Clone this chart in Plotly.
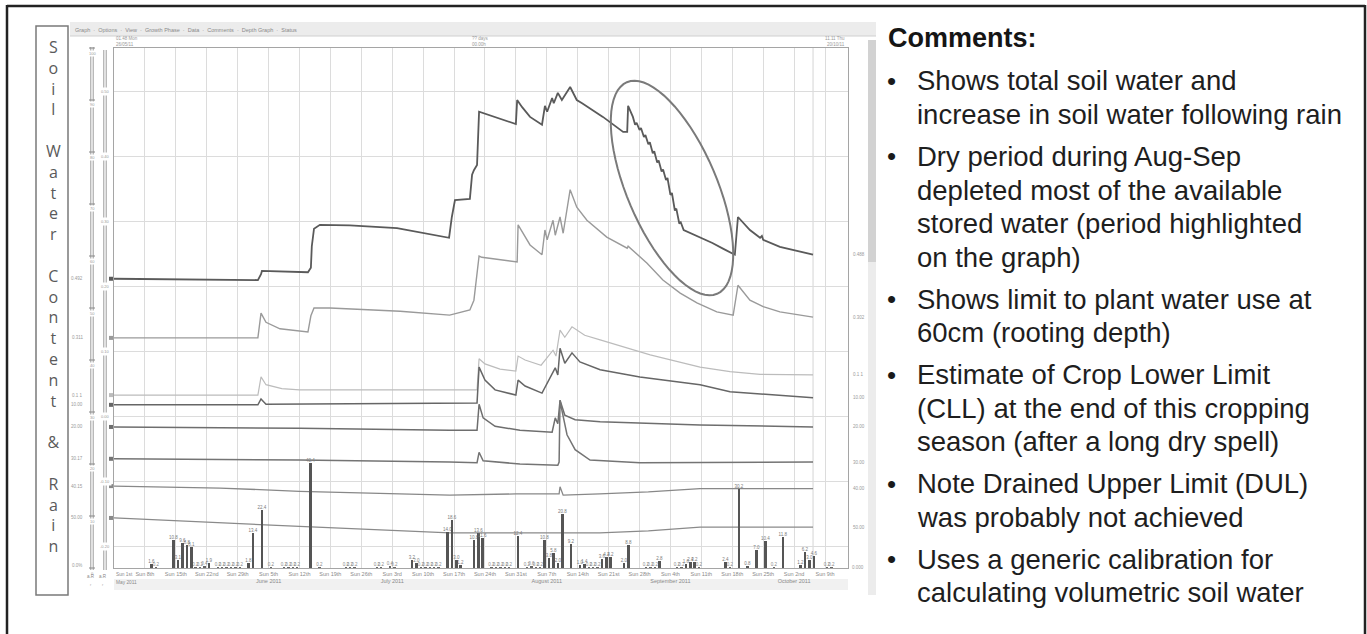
import math
import pandas as pd
import plotly.graph_objects as go

# soil water traces - position on the stacked display scale (grid units)
sw_total_dates = ["2011-05-01 00:00", "2011-06-02 14:00", "2011-06-03 07:00", "2011-06-03 12:00", "2011-06-13 22:00",
                  "2011-06-14 14:00", "2011-06-14 19:00", "2011-06-15 07:00", "2011-06-16 15:00", "2011-06-23 10:00",
                  "2011-07-04 02:00", "2011-07-11 14:00", "2011-07-15 21:00", "2011-07-16 12:00", "2011-07-17 05:00",
                  "2011-07-20 14:00", "2011-07-21 02:00", "2011-07-21 12:00", "2011-07-22 05:00", "2011-07-22 16:00",
                  "2011-07-23 14:00", "2011-07-31 00:00", "2011-07-31 07:00", "2011-08-01 10:00", "2011-08-03 05:00",
                  "2011-08-05 22:00", "2011-08-06 14:00", "2011-08-07 02:00", "2011-08-08 05:00", "2011-08-08 14:00",
                  "2011-08-09 12:00", "2011-08-10 10:00", "2011-08-12 07:00", "2011-08-13 19:00", "2011-08-15 00:00",
                  "2011-08-19 17:00", "2011-08-24 07:00", "2011-08-25 05:00", "2011-08-25 10:00", "2011-08-26 12:00",
                  "2011-08-27 00:00", "2011-08-27 08:00", "2011-08-28 00:00", "2011-08-28 08:00", "2011-08-29 00:00",
                  "2011-08-29 08:00", "2011-08-30 00:00", "2011-08-30 08:00", "2011-08-31 00:00", "2011-08-31 08:00",
                  "2011-09-01 00:00", "2011-09-01 08:00", "2011-09-02 00:00", "2011-09-02 08:00", "2011-09-03 00:00",
                  "2011-09-03 08:00", "2011-09-04 00:00", "2011-09-04 08:00", "2011-09-05 00:00", "2011-09-05 08:00",
                  "2011-09-06 00:00", "2011-09-06 08:00", "2011-09-07 00:00", "2011-09-08 00:00", "2011-09-09 00:00",
                  "2011-09-11 00:00", "2011-09-13 12:00", "2011-09-16 00:00", "2011-09-18 14:00", "2011-09-19 07:00",
                  "2011-09-22 00:00", "2011-09-24 07:00", "2011-09-24 17:00", "2011-09-25 00:00", "2011-09-28 19:00",
                  "2011-10-06 07:00"]
sw_total = [4.45, 4.43, 4.52, 4.57, 4.55, 4.62, 4.95, 5.22, 5.28, 5.27,
            5.23, 5.14, 5.08, 5.40, 5.66, 5.68, 6.05, 6.12, 6.20, 7.02,
            7.00, 6.83, 7.20, 7.09, 6.94, 6.82, 7.11, 7.02, 7.23, 7.15,
            7.31, 7.20, 7.40, 7.20, 7.15, 6.94, 6.71, 6.71, 7.11, 6.94,
            6.82, 6.85, 6.74, 6.77, 6.63, 6.66, 6.52, 6.55, 6.38, 6.41,
            6.24, 6.27, 6.10, 6.13, 5.97, 6.00, 5.74, 5.77, 5.50, 5.53,
            5.30, 5.32, 5.20, 5.17, 5.14, 5.07, 5.00, 4.91, 4.82, 5.40,
            5.20, 5.08, 5.11, 5.05, 4.94, 4.82]

sw_10_dates = ["2011-05-01 00:00", "2011-06-02 14:00", "2011-06-03 07:00", "2011-06-04 10:00", "2011-06-07 14:00",
               "2011-06-13 22:00", "2011-06-14 14:00", "2011-06-15 07:00", "2011-06-18 22:00", "2011-07-04 19:00",
               "2011-07-16 00:00", "2011-07-20 14:00", "2011-07-21 12:00", "2011-07-22 05:00", "2011-07-22 16:00",
               "2011-07-23 07:00", "2011-07-31 07:00", "2011-07-31 12:00", "2011-08-03 05:00", "2011-08-05 22:00",
               "2011-08-06 14:00", "2011-08-07 02:00", "2011-08-08 10:00", "2011-08-08 22:00", "2011-08-10 00:00",
               "2011-08-10 17:00", "2011-08-12 07:00", "2011-08-13 19:00", "2011-08-16 02:00", "2011-08-20 14:00",
               "2011-08-25 05:00", "2011-08-25 10:00", "2011-08-29 17:00", "2011-09-02 07:00", "2011-09-06 05:00",
               "2011-09-10 00:00", "2011-09-14 12:00", "2011-09-18 05:00", "2011-09-19 07:00", "2011-09-22 00:00",
               "2011-09-25 00:00", "2011-09-28 19:00", "2011-10-06 07:00"]
sw_10 = [3.54, 3.54, 3.92, 3.78, 3.68, 3.63, 3.88, 4.00, 4.00, 3.95,
         3.89, 3.97, 4.12, 4.60, 4.80, 4.78, 4.71, 5.28, 4.97, 4.82,
         5.20, 5.05, 5.35, 5.12, 5.40, 5.15, 5.82, 5.55, 5.35, 5.09,
         4.92, 4.95, 4.69, 4.43, 4.23, 4.08, 3.94, 3.89, 4.35, 4.12,
         4.02, 3.94, 3.86]

sw_20_dates = ["2011-05-01 00:00", "2011-06-02 14:00", "2011-06-03 07:00", "2011-06-04 10:00", "2011-06-08 00:00",
               "2011-06-12 00:00", "2011-07-22 05:00", "2011-07-22 16:00", "2011-07-24 00:00", "2011-07-27 10:00",
               "2011-07-31 00:00", "2011-07-31 12:00", "2011-08-02 02:00", "2011-08-05 17:00", "2011-08-08 10:00",
               "2011-08-09 02:00", "2011-08-10 00:00", "2011-08-11 02:00", "2011-08-12 17:00", "2011-08-15 14:00",
               "2011-08-19 02:00", "2011-08-24 17:00", "2011-08-30 10:00", "2011-09-10 17:00", "2011-09-17 12:00",
               "2011-09-24 07:00", "2011-10-06 07:00"]
sw_20 = [2.66, 2.66, 2.94, 2.82, 2.76, 2.74, 2.74, 3.22, 3.14, 3.06,
         3.03, 3.26, 3.20, 3.12, 3.35, 3.26, 3.66, 3.55, 3.71, 3.58,
         3.51, 3.40, 3.28, 3.09, 3.02, 2.98, 2.97]

sw_30_dates = ["2011-05-01 00:00", "2011-06-02 14:00", "2011-06-03 07:00", "2011-06-04 10:00", "2011-07-22 05:00",
               "2011-07-22 16:00", "2011-07-24 00:00", "2011-07-26 07:00", "2011-07-31 00:00", "2011-07-31 12:00",
               "2011-08-02 02:00", "2011-08-05 22:00", "2011-08-08 22:00", "2011-08-09 12:00", "2011-08-10 00:00",
               "2011-08-11 02:00", "2011-08-12 17:00", "2011-08-14 12:00", "2011-08-19 02:00", "2011-08-28 02:00",
               "2011-09-10 17:00", "2011-09-17 12:00", "2011-10-06 07:00"]
sw_30 = [2.51, 2.51, 2.60, 2.52, 2.54, 3.09, 2.89, 2.74, 2.66, 2.89,
         2.80, 2.69, 3.08, 2.97, 3.38, 3.15, 3.31, 3.17, 3.05, 2.94,
         2.82, 2.71, 2.62]

sw_40_dates = ["2011-05-01 00:00", "2011-06-12 00:00", "2011-07-16 00:00", "2011-07-22 05:00", "2011-07-22 16:00",
               "2011-07-23 14:00", "2011-07-26 07:00", "2011-07-31 22:00", "2011-08-08 05:00", "2011-08-08 22:00",
               "2011-08-09 12:00", "2011-08-10 00:00", "2011-08-11 02:00", "2011-08-13 10:00", "2011-08-19 02:00",
               "2011-09-10 17:00", "2011-10-06 07:00"]
sw_40 = [2.17, 2.15, 2.12, 2.12, 2.52, 2.31, 2.18, 2.12, 2.09, 2.31,
         2.22, 2.58, 2.35, 2.28, 2.25, 2.20, 2.17]

sw_50_dates = ["2011-05-01 00:00", "2011-06-12 00:00", "2011-07-16 00:00", "2011-07-22 05:00", "2011-07-22 16:00",
               "2011-07-23 14:00", "2011-07-31 22:00", "2011-08-09 12:00", "2011-08-09 19:00", "2011-08-10 00:00",
               "2011-08-10 10:00", "2011-08-11 14:00", "2011-08-13 10:00", "2011-08-16 19:00", "2011-08-28 02:00",
               "2011-10-06 07:00"]
sw_50 = [1.68, 1.66, 1.63, 1.62, 1.78, 1.65, 1.60, 1.58, 1.63, 2.58,
         2.43, 2.05, 1.82, 1.66, 1.62, 1.63]

sw_60_dates = ["2011-05-01 00:00", "2011-05-25 00:00", "2011-06-12 00:00", "2011-07-16 00:00", "2011-07-31 00:00",
               "2011-08-09 19:00", "2011-08-10 00:00", "2011-08-10 17:00", "2011-08-19 00:00", "2011-08-30 00:00",
               "2011-09-10 17:00", "2011-10-06 07:00"]
sw_60 = [1.26, 1.23, 1.18, 1.12, 1.14, 1.14, 1.25, 1.12, 1.14, 1.17, 1.22, 1.22]

sw_70_dates = ["2011-05-01 00:00", "2011-05-25 00:00", "2011-06-12 00:00", "2011-07-16 00:00", "2011-08-19 00:00",
               "2011-08-30 00:00", "2011-09-10 17:00", "2011-10-06 07:00"]
sw_70 = [0.77, 0.69, 0.64, 0.54, 0.54, 0.57, 0.63, 0.63]

# sensor read-outs shown at the start / end of each trace
start_labels = ["0.492", "0.311", "0.1 1", "10.00", "20.00", "30.17", "40.15", "50.00"]
end_labels = ["0.488", "0.302", "0.1 1", "10.00", "20.00", "30.00", "40.00", "50.00"]

# daily rain (mm)
rain_dates = ["2011-05-09", "2011-05-14", "2011-05-15", "2011-05-16", "2011-05-17", "2011-05-18", "2011-05-22",
              "2011-05-31", "2011-06-01", "2011-06-03", "2011-06-14", "2011-07-07", "2011-07-08", "2011-07-15",
              "2011-07-16", "2011-07-17", "2011-07-18", "2011-07-21", "2011-07-22", "2011-07-23", "2011-07-31",
              "2011-08-06", "2011-08-07", "2011-08-08", "2011-08-09", "2011-08-10", "2011-08-12", "2011-08-14",
              "2011-08-15", "2011-08-19", "2011-08-20", "2011-08-21", "2011-08-24", "2011-08-25", "2011-09-01",
              "2011-09-07", "2011-09-08", "2011-09-09", "2011-09-16", "2011-09-19", "2011-09-21", "2011-09-23",
              "2011-09-25", "2011-09-29", "2011-10-03", "2011-10-04", "2011-10-05", "2011-10-06"]
rain_mm = [1.6, 10.8, 3.1, 9.6, 8.8, 8.1, 1.9, 1.8, 13.4, 22.4,
           40.4, 3.2, 2.0, 14.0, 18.6, 3.0, 1.2, 10.8, 13.6, 11.6,
           12.4, 10.8, 3.8, 5.8, 2.0, 20.8, 9.2, 1.0, 1.4, 3.6,
           4.2, 4.2, 2.0, 8.8, 2.8, 1.6, 2.4, 2.2, 2.4, 30.2,
           0.8, 7.0, 10.4, 11.8, 1.2, 6.2, 3.0, 4.6]

drizzle_dates = ["2011-05-10", "2011-05-19", "2011-05-20", "2011-05-21", "2011-05-24", "2011-05-25", "2011-05-26",
                 "2011-05-27", "2011-05-28", "2011-05-29", "2011-06-05", "2011-06-08", "2011-06-09", "2011-06-10",
                 "2011-06-11", "2011-06-16", "2011-06-22", "2011-06-23", "2011-06-24", "2011-06-29", "2011-06-30",
                 "2011-07-02", "2011-07-03", "2011-07-09", "2011-07-10", "2011-07-11", "2011-07-12", "2011-07-13",
                 "2011-07-25", "2011-07-26", "2011-07-27", "2011-07-28", "2011-07-29", "2011-08-02", "2011-08-03",
                 "2011-08-04", "2011-08-05", "2011-08-16", "2011-08-17", "2011-08-18", "2011-08-29", "2011-08-30",
                 "2011-08-31", "2011-09-05", "2011-09-06", "2011-09-10", "2011-09-17", "2011-09-27", "2011-10-09",
                 "2011-10-10"]
drizzle_mm = [0.2, 0.2, 0.2, 0.4, 0.2, 0.2, 0.2, 0.2, 0.2, 0.2,
              0.2, 0.2, 0.2, 0.2, 0.2, 0.2, 0.2, 0.2, 0.2, 0.2,
              0.2, 0.4, 0.2, 0.2, 0.2, 0.2, 0.2, 0.2, 0.2, 0.2,
              0.2, 0.2, 0.2, 0.2, 0.6, 0.2, 0.2, 0.2, 0.2, 0.2,
              0.2, 0.2, 0.2, 0.2, 0.2, 0.2, 0.2, 0.2, 0.2, 0.2]

comment_bullets = [
    ["Shows total soil water and", "increase in soil water following rain"],
    ["Dry period during Aug-Sep", "depleted most of the available", "stored water (period highlighted", "on the graph)"],
    ["Shows limit to plant water use at", "60cm (rooting depth)"],
    ["Estimate of Crop Lower Limit", "(CLL) at the end of this cropping", "season (after a long dry spell)"],
    ["Note Drained Upper Limit (DUL)", "was probably not achieved"],
    ["Uses a generic calibration for", "calculating volumetric soil water"],
]

# %%
W, H = 1367, 634
PL, PR, PT, PB = 114, 848, 48, 568
Y_MAX = 8.0
RAIN_MAX = 200
TXT = "Liberation Sans"


def fx(x):
    return x / W


def fy(y):
    return 1 - y / H


def val_y(v):
    return fy(PB) + v / Y_MAX * (fy(PT) - fy(PB))


shapes = []
annos = []


def seg(x0, y0, x1, y1, color, width=1, layer="above"):
    shapes.append(dict(type="line", xref="paper", yref="paper", x0=fx(x0), y0=fy(y0), x1=fx(x1), y1=fy(y1),
                       line=dict(color=color, width=width), layer=layer))


def box(x0, y0, x1, y1, fill=None, color=None, width=0, layer="below"):
    shapes.append(dict(type="rect", xref="paper", yref="paper", x0=fx(x0), y0=fy(y0), x1=fx(x1), y1=fy(y1),
                       fillcolor=fill if fill else "rgba(0,0,0,0)",
                       line=dict(color=color if color else "rgba(0,0,0,0)", width=width), layer=layer))


def text(x, y, s, size=5, color="#999", xanchor="left", family=TXT, bg=None):
    annos.append(dict(x=fx(x), y=fy(y), xref="paper", yref="paper", text=s, showarrow=False,
                      xanchor=xanchor, yanchor="middle", font=dict(size=size, color=color, family=family),
                      bgcolor=bg, borderpad=0))


series = [
    (sw_total_dates, sw_total, "#5a5a5a", 1.8),
    (sw_10_dates, sw_10, "#9a9a9a", 1.4),
    (sw_20_dates, sw_20, "#bcbcbc", 1.2),
    (sw_30_dates, sw_30, "#666666", 1.5),
    (sw_40_dates, sw_40, "#6e6e6e", 1.5),
    (sw_50_dates, sw_50, "#747474", 1.5),
    (sw_60_dates, sw_60, "#888888", 1.3),
    (sw_70_dates, sw_70, "#8a8a8a", 1.3),
]

fig = go.Figure()
for d, v, col, w in series:
    fig.add_trace(go.Scatter(x=pd.to_datetime(d), y=v, mode="lines", line=dict(color=col, width=w),
                             hoverinfo="skip"))

day_ms = 86400000
fig.add_trace(go.Bar(x=pd.to_datetime(drizzle_dates) + pd.Timedelta(hours=12), y=drizzle_mm, yaxis="y2",
                     width=0.55 * day_ms, marker=dict(color="#666", line=dict(width=0)),
                     text=[f"{v:.1f}" for v in drizzle_mm], textposition="outside", constraintext="none",
                     textfont=dict(size=4.5, color="#8a8a8a", family=TXT), cliponaxis=False, hoverinfo="skip"))
fig.add_trace(go.Bar(x=pd.to_datetime(rain_dates) + pd.Timedelta(hours=12), y=rain_mm, yaxis="y2",
                     width=0.6 * day_ms, marker=dict(color="#555", line=dict(width=0)),
                     text=[f"{v:.1f}" for v in rain_mm], textposition="outside", constraintext="none",
                     textfont=dict(size=4.5, color="#7a7a7a", family=TXT), cliponaxis=False, hoverinfo="skip"))

# weekly ticks (Sundays) with the month under the first Sunday; 1 May sits on the axis edge
sundays = pd.date_range("2011-05-08", "2011-10-09", freq="7D")


def ordinal(n):
    if 10 <= n % 100 <= 20:
        return f"{n}th"
    return f"{n}" + {1: "st", 2: "nd", 3: "rd"}.get(n % 10, "th")


ticktext = []
for s in sundays:
    t = f"Sun {ordinal(s.day)}"
    if s.day <= 7:
        t += f"<br>{s.strftime('%B %Y')}"
    ticktext.append(t)
text(115, 574, "Sun 1st", size=4.8, color="#8a8a8a")
text(115, 582, "May 2011", size=4.8, color="#8a8a8a")

# ---- screenshot chrome ----
box(70, 22, 876, 36, fill="#ececec")
seg(70, 36, 876, 36, "#d0d0d0", 1)
text(74, 29.5, "Graph  ·  Options  ·  View  ·  Growth Phase  ·  Data  ·  Comments  ·  Depth Graph  ·  Status",
     size=5.5, color="#8a8a8a")
text(115, 39, "01.48 Mon", size=4.5)
text(115, 44, "26/05/11", size=4.5)
text(471, 39, "?? days", size=4.5)
text(471, 44, "00.00h", size=4.5)
text(846, 39, "11.11 Thu", size=4.5, xanchor="right")
text(846, 44, "20/10/11", size=4.5, xanchor="right")
box(868, 40, 876, 262, fill="#d2d2d2")
box(868, 262, 876, 595, fill="#ececec")
box(114, 579, 848, 590, fill="#f1f1f1")

# left title box
box(36, 26, 68, 595, color="#7a7a7a", width=1.5, layer="above")
letters = "S<br>o<br>i<br>l<br><br>W<br>a<br>t<br>e<br>r<br><br>C<br>o<br>n<br>t<br>e<br>n<br>t<br><br>&<br><br>R<br>a<br>i<br>n"
annos.append(dict(x=fx(53), y=fy(296), xref="paper", yref="paper", text=letters, showarrow=False,
                  xanchor="center", yanchor="middle", font=dict(size=16, color="#5a5a5a", family="Open Sans")))

# rulers on the left of the graph
for rx, y_top in [(92, 47), (105, 50)]:
    seg(rx - 1.2, y_top, rx - 1.2, PB + 2, "#9a9a9a", 1)
    seg(rx + 1.2, y_top, rx + 1.2, PB + 2, "#9a9a9a", 1)
ruler1 = ["100", "90", "80", "70", "60", "50", "40", "30", "20", "10", "0"]
for i, lab in enumerate(ruler1):
    yy = PT + i * 52
    seg(89, yy, 95, yy, "#888", 1)
    text(92, yy + 5, lab, size=4, color="#999", xanchor="center", bg="white")
ruler2 = ["0.50", "0.40", "0.30", "0.20", "0.10", "0.00", "-0.10", "-0.20"]
for i, lab in enumerate(ruler2):
    yy = fy(PB) + (0.33 + 7 - i) / Y_MAX * (fy(PT) - fy(PB))
    annos.append(dict(x=fx(105), y=yy, xref="paper", yref="paper", text=lab, showarrow=False, xanchor="center",
                      yanchor="middle", font=dict(size=4, color="#999", family=TXT), bgcolor="white"))
text(91, 576, "a.R", size=4.5, color="#888", xanchor="center")
text(103, 576, "a.R", size=4.5, color="#888", xanchor="center")
text(91, 584, "r", size=4, color="#aaa", xanchor="center")
text(103, 584, "r", size=4, color="#aaa", xanchor="center")

# start markers / labels and end labels for each trace
for (d, v, col, w), s_lab, e_lab in zip(series, start_labels, end_labels):
    y0 = val_y(v[0])
    shapes.append(dict(type="rect", xref="paper", yref="paper", x0=fx(109), x1=fx(113), y0=y0 - 2 / H, y1=y0 + 2 / H,
                       fillcolor=col, line=dict(width=0)))
    annos.append(dict(x=fx(77), y=y0, xref="paper", yref="paper", text=s_lab, showarrow=False, xanchor="center",
                      yanchor="middle", font=dict(size=4.5, color="#9a9a9a", family=TXT)))
    annos.append(dict(x=fx(851), y=val_y(v[-1]), xref="paper", yref="paper", text=e_lab, showarrow=False,
                      xanchor="left", yanchor="middle", font=dict(size=4.5, color="#9a9a9a", family=TXT)))
text(77, PB - 3, "0.0%", size=4.5, color="#9a9a9a", xanchor="center")
text(851, PB - 1, "0.000", size=4.5, color="#9a9a9a")

# data end marker line
shapes.append(dict(type="line", xref="x", yref="paper", x0=sw_total_dates[-1], x1=sw_total_dates[-1],
                   y0=fy(PB), y1=fy(PT), line=dict(color="#d4d4d4", width=1), layer="below"))

# highlight ellipse around the dry spell decline
cx, cy, ea, eb, ang = 672, 188, 115, 45, math.radians(66.9)
pts = []
for k in range(73):
    t = 2 * math.pi * k / 72
    px = cx + ea * math.cos(t) * math.cos(ang) - eb * math.sin(t) * math.sin(ang)
    py = cy + ea * math.cos(t) * math.sin(ang) + eb * math.sin(t) * math.cos(ang)
    pts.append(f"{fx(px):.5f},{fy(py):.5f}")
shapes.append(dict(type="path", xref="paper", yref="paper", path="M" + " L".join(pts) + " Z",
                   line=dict(color="#7a7a7a", width=2)))

# outer frame
seg(7, 6, 1365, 6, "#222", 2.5)
seg(7, 5, 7, 634, "#222", 2.5)
seg(1365, 5, 1365, 634, "#222", 2.5)

# comments panel
annos.append(dict(x=fx(886), y=fy(38), xref="paper", yref="paper", text="<b>Comments:</b>", showarrow=False,
                  xanchor="left", yanchor="middle", font=dict(size=27, color="#151515", family=TXT)))
yy = 81
for bullet in comment_bullets:
    for j, line_txt in enumerate(bullet):
        if j == 0:
            text(892, yy, "•", size=26, color="#1a1a1a", xanchor="center")
        text(916, yy, line_txt, size=27.5, color="#1e1e1e")
        yy += 33.7
    yy += 8

fig.update_layout(
    width=W, height=H, margin=dict(l=0, r=0, t=0, b=0),
    paper_bgcolor="white", plot_bgcolor="white", showlegend=False, bargap=0, barmode="overlay",
    font=dict(family=TXT),
    xaxis=dict(type="date", range=["2011-05-01 00:00", "2011-10-14 05:00"], domain=[fx(PL), fx(PR)],
               tickvals=sundays, ticktext=ticktext, tickangle=0,
               tickfont=dict(size=5.5, color="#8a8a8a", family=TXT),
               showgrid=True, gridcolor="#dcdcdc", gridwidth=1, showline=True, linecolor="#a5a5a5",
               linewidth=1.3, mirror=True, ticks="", zeroline=False),
    yaxis=dict(range=[0, Y_MAX], domain=[fy(PB), fy(PT)], tick0=0.33, dtick=1, showticklabels=False,
               showgrid=True, gridcolor="#dcdcdc", gridwidth=1, showline=True, linecolor="#a5a5a5",
               linewidth=1.3, mirror=True, ticks="", zeroline=False),
    yaxis2=dict(overlaying="y", range=[0, RAIN_MAX], visible=False),
    shapes=shapes, annotations=annos,
)

# drop the default page margin so the figure sits at the window origin
fig.write_html("out.html", config={"displayModeBar": False},
               post_script="document.body.style.margin='0';document.body.style.overflow='hidden';")
